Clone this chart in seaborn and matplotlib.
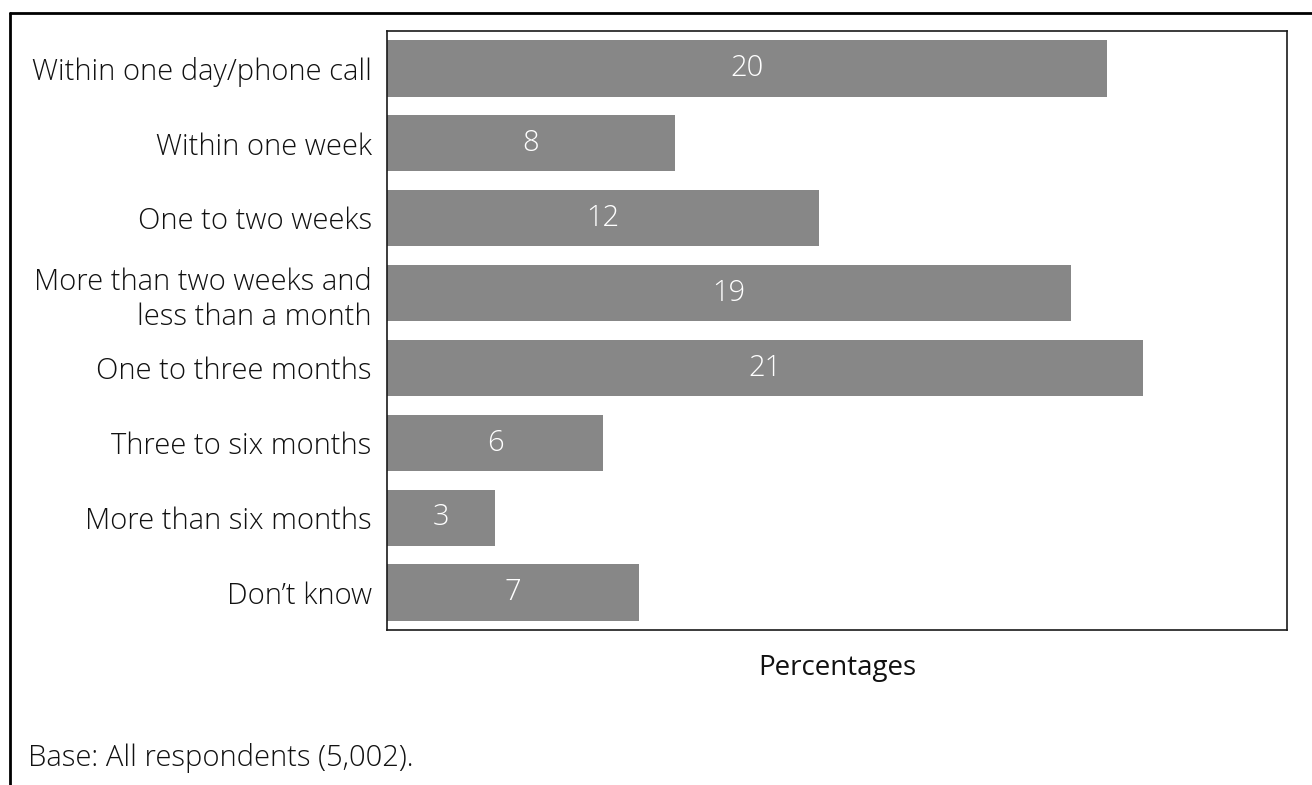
import matplotlib
matplotlib.use("Agg")
import matplotlib.pyplot as plt
import seaborn as sns
import pandas as pd
from matplotlib.lines import Line2D

categories = ["Within one day/phone call", "Within one week", "One to two weeks",
              "More than two weeks and\nless than a month", "One to three months",
              "Three to six months", "More than six months", "Don\u2019t know"]
values = [20, 8, 12, 19, 21, 6, 3, 7]

sns.set_theme(style="white")
plt.rcParams['font.family'] = ['Open Sans', 'DejaVu Sans']

df = pd.DataFrame({"cat": categories, "val": values})

fig = plt.figure(figsize=(13.12, 7.85), dpi=100)
ax = fig.add_axes([387/1312, 1 - 630/785, 900/1312, 599/785])
sns.barplot(data=df, x="val", y="cat", ax=ax, color="#878787", saturation=1,
            width=0.75, edgecolor="none")
ax.set_xlim(0, 25)
ax.set_ylim(7.5, -0.5)
ax.set_xticks([])
ax.set_ylabel("")
ax.set_xlabel("Percentages", fontsize=20, color="#111111")
ax.xaxis.set_label_coords(0.5, -38/599)
ax.xaxis.label.set_va("center")
for s in ax.spines.values():
    s.set_visible(True)
    s.set_color("#1a1a1a")
    s.set_linewidth(1.2)
ax.tick_params(axis="y", length=0, pad=11, labelsize=21, labelcolor="#111111")
for lab in ax.get_yticklabels():
    lab.set_horizontalalignment("right")
    lab.set_multialignment("right")
    lab.set_linespacing(1.28)
    lab.set_fontweight("light")

for i, v in enumerate(values):
    ax.text(v / 2, i, str(v), ha="center", va="center", color="white", fontsize=21,
            fontweight="light")

fig.text(28/1312, 1 - 758/785, "Base: All respondents (5,002).", fontsize=21,
         ha="left", va="center", color="#111111", fontweight="light")

fig.add_artist(Line2D([10/1312, 1.0], [1 - 13/785, 1 - 13/785], transform=fig.transFigure,
                      color="black", linewidth=2))
fig.add_artist(Line2D([10/1312, 10/1312], [1 - 13/785, 0], transform=fig.transFigure,
                      color="black", linewidth=2))

fig.savefig("out.png", dpi=100)
